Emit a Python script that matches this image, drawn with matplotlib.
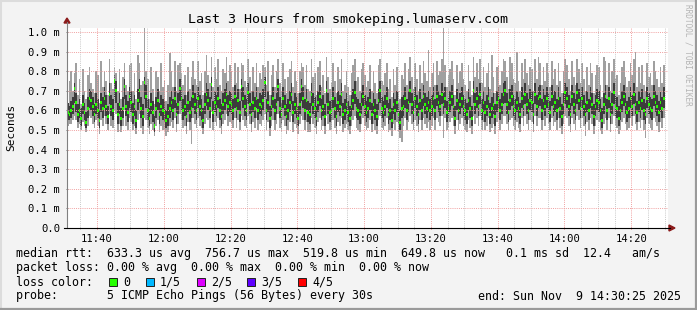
import numpy as np
import matplotlib
matplotlib.use("Agg")
import matplotlib.pyplot as plt
from matplotlib.lines import Line2D
from matplotlib.patches import Polygon, Rectangle

W, H = 697, 310

# ping rtt in 1/100 ms, one value per 30 s step (11:30 .. 14:30)
median = [
    60, 59, 59, 58, 60, 62, 71, 64, 58, 60, 56, 63, 59, 54, 61, 66, 65, 62, 58, 63,
    60, 55, 64, 61, 66, 62, 57, 68, 62, 60, 75, 70, 58, 63, 56, 61, 72, 62, 59, 67,
    64, 58, 62, 55, 65, 70, 61, 57, 74, 67, 60, 56, 63, 59, 52, 61, 65, 58, 62, 60,
    59, 55, 57, 61, 64, 60, 66, 58, 63, 71, 66, 60, 62, 57, 64, 59, 61, 67, 63, 60,
    66, 62, 60, 55, 63, 68, 65, 61, 73, 59, 64, 62, 66, 60, 57, 63, 65, 68, 62, 64,
    63, 60, 67, 61, 65, 59, 72, 66, 62, 60, 69, 63, 58, 64, 61, 66, 60, 63, 62, 65,
    74, 60, 64, 56, 62, 66, 60, 63, 72, 61, 58, 66, 62, 57, 60, 64, 68, 59, 63, 61,
    56, 63, 72, 66, 60, 65, 59, 58, 68, 63, 61, 56, 64, 67, 60, 62, 57, 70, 63, 59,
    60, 66, 61, 57, 64, 62, 68, 58, 60, 63, 59, 56, 62, 65, 69, 61, 60, 58, 63, 67,
    62, 59, 61, 65, 58, 63, 60, 57, 65, 70, 61, 59, 62, 66, 58, 60, 55, 63, 60, 64,
    58, 54, 61, 62, 66, 60, 64, 70, 63, 59, 66, 62, 58, 65, 60, 67, 63, 61, 64, 60,
    62, 66, 60, 67, 64, 62, 68, 63, 66, 59, 61, 64, 67, 62, 56, 65, 60, 63, 66, 62,
    60, 58, 65, 61, 56, 70, 63, 66, 62, 68, 60, 64, 59, 62, 66, 58, 61, 63, 57, 64,
    66, 60, 63, 68, 70, 63, 59, 65, 67, 62, 60, 64, 61, 58, 66, 62, 68, 63, 60, 65,
    64, 58, 68, 62, 66, 67, 60, 65, 62, 66, 63, 59, 67, 62, 64, 60, 66, 61, 57, 63,
    69, 66, 62, 58, 67, 63, 60, 69, 65, 61, 66, 62, 58, 64, 60, 66, 63, 57, 62, 65,
    64, 60, 55, 63, 67, 60, 66, 58, 63, 69, 62, 61, 56, 60, 64, 67, 63, 59, 61, 66,
    62, 68, 63, 59, 64, 61, 65, 60, 58, 66, 63, 61, 60, 67, 64, 62, 59, 64, 61, 66,
]
ping2 = [
    57, 56, 55, 55, 56, 58, 64, 59, 54, 56, 52, 58, 55, 51, 56, 61, 60, 57, 54, 58,
    56, 51, 59, 56, 61, 57, 53, 63, 57, 55, 67, 64, 53, 58, 52, 56, 66, 57, 54, 61,
    59, 53, 57, 51, 60, 64, 56, 52, 66, 61, 55, 52, 58, 54, 49, 56, 60, 53, 57, 55,
    54, 51, 52, 56, 59, 55, 61, 53, 58, 65, 60, 55, 57, 52, 59, 54, 56, 61, 58, 55,
    61, 57, 55, 51, 58, 62, 60, 56, 66, 54, 59, 57, 61, 55, 52, 58, 60, 63, 57, 59,
    58, 55, 61, 56, 60, 54, 65, 61, 57, 55, 63, 58, 53, 59, 56, 61, 55, 58, 57, 60,
    67, 55, 59, 51, 57, 61, 55, 58, 65, 56, 53, 61, 57, 52, 55, 59, 63, 54, 58, 56,
    52, 58, 65, 61, 55, 60, 54, 53, 62, 58, 56, 52, 59, 62, 55, 57, 52, 64, 58, 54,
    55, 61, 56, 52, 59, 57, 62, 53, 55, 58, 54, 52, 57, 60, 63, 56, 55, 53, 58, 62,
    57, 54, 56, 60, 53, 58, 55, 52, 60, 64, 56, 54, 57, 61, 53, 55, 51, 58, 55, 59,
    53, 50, 56, 57, 61, 55, 59, 64, 58, 54, 61, 57, 53, 60, 55, 62, 58, 56, 59, 55,
    57, 61, 55, 62, 59, 57, 63, 58, 61, 54, 56, 59, 62, 57, 52, 60, 55, 58, 61, 57,
    55, 53, 60, 56, 52, 64, 58, 61, 57, 63, 55, 59, 54, 57, 61, 53, 56, 58, 52, 59,
    61, 55, 58, 63, 64, 58, 54, 60, 62, 57, 55, 59, 56, 53, 61, 57, 63, 58, 55, 60,
    59, 53, 63, 57, 61, 62, 55, 60, 57, 61, 58, 54, 62, 57, 59, 55, 61, 56, 52, 58,
    63, 61, 57, 53, 62, 58, 55, 63, 60, 56, 61, 57, 53, 59, 55, 61, 58, 52, 57, 60,
    59, 55, 51, 58, 62, 55, 61, 53, 58, 63, 57, 56, 52, 55, 59, 62, 58, 54, 56, 61,
    57, 63, 58, 54, 59, 56, 60, 55, 53, 61, 58, 56, 55, 62, 59, 57, 54, 59, 56, 61,
]
ping4 = [
    64, 63, 64, 62, 65, 67, 74, 69, 63, 66, 61, 68, 64, 59, 67, 71, 70, 67, 63, 69,
    66, 60, 69, 67, 72, 68, 62, 74, 68, 66, 78, 75, 64, 69, 61, 67, 76, 68, 65, 72,
    70, 64, 68, 60, 71, 76, 67, 63, 77, 73, 66, 61, 69, 65, 57, 67, 71, 64, 68, 66,
    65, 60, 63, 67, 70, 66, 72, 64, 69, 76, 72, 66, 68, 63, 70, 65, 67, 73, 69, 66,
    72, 68, 66, 61, 69, 74, 71, 67, 77, 65, 70, 68, 72, 66, 63, 69, 71, 74, 68, 70,
    69, 66, 73, 67, 71, 65, 76, 72, 68, 66, 74, 69, 64, 70, 67, 72, 66, 69, 68, 71,
    77, 66, 70, 62, 68, 72, 66, 69, 76, 67, 64, 72, 68, 63, 66, 70, 74, 65, 69, 67,
    62, 69, 76, 72, 66, 71, 65, 64, 74, 69, 67, 62, 70, 73, 66, 68, 63, 75, 69, 65,
    66, 72, 67, 63, 70, 68, 74, 64, 66, 69, 65, 62, 68, 71, 75, 67, 66, 64, 69, 73,
    68, 65, 67, 71, 64, 69, 66, 63, 71, 75, 67, 65, 68, 72, 64, 66, 61, 69, 66, 70,
    64, 60, 67, 68, 72, 66, 70, 75, 69, 65, 72, 68, 64, 71, 66, 73, 69, 67, 70, 66,
    68, 72, 66, 73, 70, 68, 74, 69, 72, 65, 67, 70, 73, 68, 62, 71, 66, 69, 72, 68,
    66, 64, 71, 67, 62, 75, 69, 72, 68, 74, 66, 70, 65, 68, 72, 64, 67, 69, 63, 70,
    72, 66, 69, 74, 75, 69, 65, 71, 73, 68, 66, 70, 67, 64, 72, 68, 74, 69, 66, 71,
    70, 64, 74, 68, 72, 73, 66, 71, 68, 72, 69, 65, 73, 68, 70, 66, 72, 67, 63, 69,
    74, 72, 68, 64, 73, 69, 66, 74, 71, 67, 72, 68, 64, 70, 66, 72, 69, 63, 68, 71,
    70, 66, 61, 69, 73, 66, 72, 64, 69, 74, 68, 67, 62, 66, 70, 73, 69, 65, 67, 72,
    68, 74, 69, 65, 70, 67, 71, 66, 64, 72, 69, 67, 66, 73, 70, 68, 65, 70, 67, 72,
]
ping_min = [
    54, 54, 52, 53, 53, 55, 57, 55, 51, 53, 50, 54, 52, 49, 52, 57, 56, 53, 51, 55,
    52, 48, 55, 52, 57, 53, 50, 58, 52, 51, 60, 58, 49, 53, 49, 52, 60, 52, 50, 56,
    54, 50, 52, 48, 55, 58, 51, 48, 56, 55, 51, 48, 53, 50, 47, 52, 55, 49, 52, 50,
    50, 47, 49, 52, 54, 51, 56, 49, 53, 58, 55, 51, 52, 48, 54, 50, 43, 56, 53, 51,
    56, 52, 51, 48, 53, 56, 55, 51, 59, 50, 54, 52, 56, 51, 48, 53, 55, 58, 52, 54,
    53, 51, 56, 51, 55, 50, 57, 55, 52, 51, 57, 53, 49, 54, 51, 56, 50, 53, 52, 55,
    58, 50, 54, 47, 52, 55, 50, 53, 58, 51, 49, 55, 52, 48, 50, 54, 57, 49, 53, 51,
    48, 53, 57, 55, 50, 54, 49, 49, 56, 53, 51, 48, 54, 56, 50, 52, 48, 57, 53, 50,
    50, 55, 51, 48, 54, 52, 56, 49, 51, 53, 50, 48, 52, 55, 57, 51, 50, 49, 53, 56,
    52, 50, 51, 55, 49, 53, 50, 48, 55, 57, 51, 50, 52, 56, 49, 50, 47, 53, 50, 54,
    49, 46, 44, 52, 56, 50, 54, 57, 53, 50, 55, 52, 49, 55, 50, 56, 53, 51, 54, 50,
    52, 56, 50, 56, 54, 52, 57, 46, 56, 50, 51, 54, 56, 52, 48, 55, 50, 53, 56, 52,
    50, 49, 55, 51, 48, 57, 53, 56, 52, 57, 50, 54, 50, 52, 56, 49, 51, 53, 48, 54,
    56, 50, 53, 57, 57, 53, 50, 55, 56, 52, 50, 54, 51, 49, 56, 52, 57, 53, 50, 55,
    54, 49, 57, 52, 56, 56, 50, 55, 52, 56, 53, 50, 56, 52, 54, 50, 56, 51, 48, 53,
    57, 56, 52, 49, 56, 53, 50, 57, 55, 51, 56, 52, 47, 54, 50, 56, 53, 48, 52, 55,
    54, 50, 48, 53, 56, 50, 56, 49, 53, 57, 52, 51, 48, 50, 54, 56, 53, 50, 51, 56,
    52, 57, 53, 50, 54, 51, 55, 50, 46, 56, 53, 51, 50, 56, 54, 52, 49, 54, 51, 56,
]
ping_max = [
    66, 72, 64, 75, 80, 70, 79, 84, 68, 76, 63, 81, 70, 66, 78, 82, 74, 71, 69, 80,
    78, 64, 85, 72, 80, 75, 68, 86, 74, 71, 82, 79, 70, 81, 66, 77, 84, 73, 70, 83,
    84, 70, 79, 66, 88, 84, 73, 75, 102, 80, 76, 66, 82, 71, 63, 80, 77, 70, 84, 72,
    75, 65, 73, 89, 80, 72, 85, 70, 83, 84, 79, 73, 78, 68, 82, 71, 77, 85, 76, 73,
    85, 75, 79, 68, 80, 88, 78, 74, 87, 72, 82, 76, 86, 73, 70, 81, 79, 87, 75, 83,
    80, 72, 84, 74, 82, 71, 84, 83, 75, 72, 86, 77, 70, 82, 74, 84, 72, 79, 76, 83,
    82, 73, 85, 68, 78, 83, 72, 80, 86, 74, 70, 84, 76, 69, 77, 81, 85, 72, 80, 75,
    69, 80, 84, 82, 73, 83, 71, 70, 86, 77, 79, 68, 82, 85, 72, 78, 69, 87, 77, 71,
    74, 84, 75, 69, 82, 76, 86, 70, 73, 80, 72, 68, 79, 83, 86, 75, 77, 70, 81, 84,
    78, 72, 75, 83, 70, 80, 74, 69, 83, 86, 75, 73, 79, 84, 71, 76, 67, 81, 73, 82,
    70, 66, 78, 76, 84, 73, 81, 87, 77, 71, 84, 76, 70, 83, 74, 85, 79, 75, 91, 72,
    79, 84, 73, 85, 78, 80, 86, 102, 83, 72, 78, 81, 85, 76, 68, 83, 74, 80, 84, 76,
    73, 70, 83, 75, 68, 87, 77, 84, 76, 86, 74, 82, 72, 79, 84, 71, 88, 77, 69, 82,
    83, 73, 80, 86, 85, 77, 71, 87, 84, 76, 74, 90, 75, 70, 84, 76, 86, 79, 73, 82,
    81, 70, 86, 76, 87, 84, 73, 82, 75, 84, 79, 72, 85, 76, 81, 73, 84, 75, 69, 80,
    86, 83, 76, 70, 85, 77, 73, 86, 81, 74, 84, 76, 70, 82, 73, 84, 79, 69, 78, 83,
    82, 73, 67, 87, 85, 73, 84, 70, 80, 86, 76, 78, 68, 74, 82, 85, 77, 72, 75, 84,
    78, 86, 90, 72, 82, 74, 83, 73, 70, 84, 77, 79, 73, 85, 80, 76, 72, 82, 74, 83,
]

y_ticks = [0.0, 0.1, 0.2, 0.3, 0.4, 0.5, 0.6, 0.7, 0.8, 0.9, 1.0]
y_tick_labels = ["0.0", "0.1 m", "0.2 m", "0.3 m", "0.4 m", "0.5 m",
                 "0.6 m", "0.7 m", "0.8 m", "0.9 m", "1.0 m"]
x_ticks = [700, 720, 740, 760, 780, 800, 820, 840, 860]  # minute of day
x_tick_labels = ["11:40", "12:00", "12:20", "12:40", "13:00",
                 "13:20", "13:40", "14:00", "14:20"]
loss_labels = ["0", "1/5", "2/5", "3/5", "4/5"]
loss_colors = ["#26ff00", "#00b8ff", "#dd00ff", "#5e00ff", "#ff0000"]

MONO = "DejaVu Sans Mono"
plt.rcParams["font.family"] = MONO


def fx(x):
    return x / W


def fy(y):
    return 1 - y / H


fig = plt.figure(figsize=(W / 100, H / 100), dpi=100, facecolor="#f3f3f3")
ax = fig.add_axes([fx(67), fy(228), (668 - 67) / W, 200 / H])
ax.set_facecolor("white")

step = 0.5
t = 690.0 + step * np.arange(len(median))
med = np.array(median) / 100
p2 = np.array(ping2) / 100
p4 = np.array(ping4) / 100
lo = np.array(ping_min) / 100
hi = np.array(ping_max) / 100

ax.bar(t, hi - lo, bottom=lo, width=step, align="edge", color="#a0a0a0", linewidth=0)
ax.bar(t, p4 - p2, bottom=p2, width=step, align="edge", color="#3c3c3c", linewidth=0)
ax.bar(t, 0.016, bottom=med - 0.008, width=step, align="edge", color=loss_colors[0],
       linewidth=0, zorder=3)

ax.set_xlim(691.0, 871.0)
ax.set_ylim(0, 1.02)

# grid, drawn over the smoke like rrdtool does
dots = (0, (1, 1.2))
for m in range(695, 871, 5):
    if m % 20:
        ax.axvline(m, color="#c8c8c8", lw=0.7, ls=dots, zorder=2)
for m in x_ticks:
    ax.axvline(m, color="#f0a0a0", lw=0.7, ls=dots, zorder=2)
for v in y_ticks[1:]:
    ax.axhline(v, color="#f0a0a0", lw=0.7, ls=dots, zorder=2)

for s in ax.spines.values():
    s.set_visible(False)

ax.set_xticks(x_ticks)
ax.set_xticklabels(x_tick_labels, fontsize=7.6)
ax.set_xticks(np.arange(695, 871, 5), minor=True)
ax.set_yticks(y_ticks)
ax.set_yticklabels(y_tick_labels, fontsize=7.6)
ax.tick_params(axis="x", which="major", length=2, width=0.7, color="#e06060", pad=3, direction="inout")
ax.tick_params(axis="x", which="minor", length=1.5, width=0.7, color="#b0b0b0", direction="inout")
ax.tick_params(axis="y", length=2, width=0.7, color="#707070", pad=4, direction="inout")

# axes with arrow heads
fig.add_artist(Line2D([fx(67), fx(67)], [fy(228), fy(22)], color="#808080", lw=0.8))
fig.add_artist(Line2D([fx(64), fx(670)], [fy(228), fy(228)], color="black", lw=0.8))
fig.add_artist(Polygon([[fx(64), fy(23)], [fx(70), fy(23)], [fx(67), fy(18)]], closed=True, color="#8b1a1a"))
fig.add_artist(Polygon([[fx(669), fy(225)], [fx(669), fy(231)], [fx(675), fy(228)]], closed=True, color="#8b1a1a"))

# frame
fig.add_artist(Line2D([0, 1], [fy(0.5), fy(0.5)], color="#dcdcdc", lw=1.5))
fig.add_artist(Line2D([fx(0.5), fx(0.5)], [0, 1], color="#dcdcdc", lw=1.5))
fig.add_artist(Line2D([0, 1], [fy(309), fy(309)], color="#9a9a9a", lw=1.6))
fig.add_artist(Line2D([fx(696), fx(696)], [0, 1], color="#9a9a9a", lw=1.6))

fig.text(fx(348), fy(19), "Last 3 Hours from smokeping.lumaserv.com", fontsize=9.6,
         ha="center", va="center")
fig.text(fx(11), fy(127), "Seconds", rotation=90, fontsize=8, ha="center", va="center")
fig.text(fx(688), fy(4), "RRDTOOL / TOBI OETIKER", rotation=270, fontsize=5.6,
         color="#b4b4b4", ha="center", va="top")

lines = [
    "median rtt:  633.3 us avg  756.7 us max  519.8 us min  649.8 us now   0.1 ms sd  12.4   am/s",
    "packet loss: 0.00 % avg  0.00 % max  0.00 % min  0.00 % now",
    "loss color:",
    "probe:       5 ICMP Echo Pings (56 Bytes) every 30s",
]
for i, s in enumerate(lines):
    fig.text(fx(16), fy(254 + 14 * i), s, fontsize=8.4, ha="left", va="center")

box_x = [109, 146, 197, 247, 298]
for bx, lab, col in zip(box_x, loss_labels, loss_colors):
    fig.add_artist(Rectangle((fx(bx), fy(286)), 8 / W, 8 / H, facecolor=col,
                             edgecolor="#202020", lw=0.7))
    fig.text(fx(bx + 14), fy(282), lab, fontsize=8.4, ha="left", va="center")

fig.text(fx(681), fy(296), "end: Sun Nov  9 14:30:25 2025", fontsize=8.4,
         ha="right", va="center")

fig.savefig("out.png", dpi=100, facecolor=fig.get_facecolor())
